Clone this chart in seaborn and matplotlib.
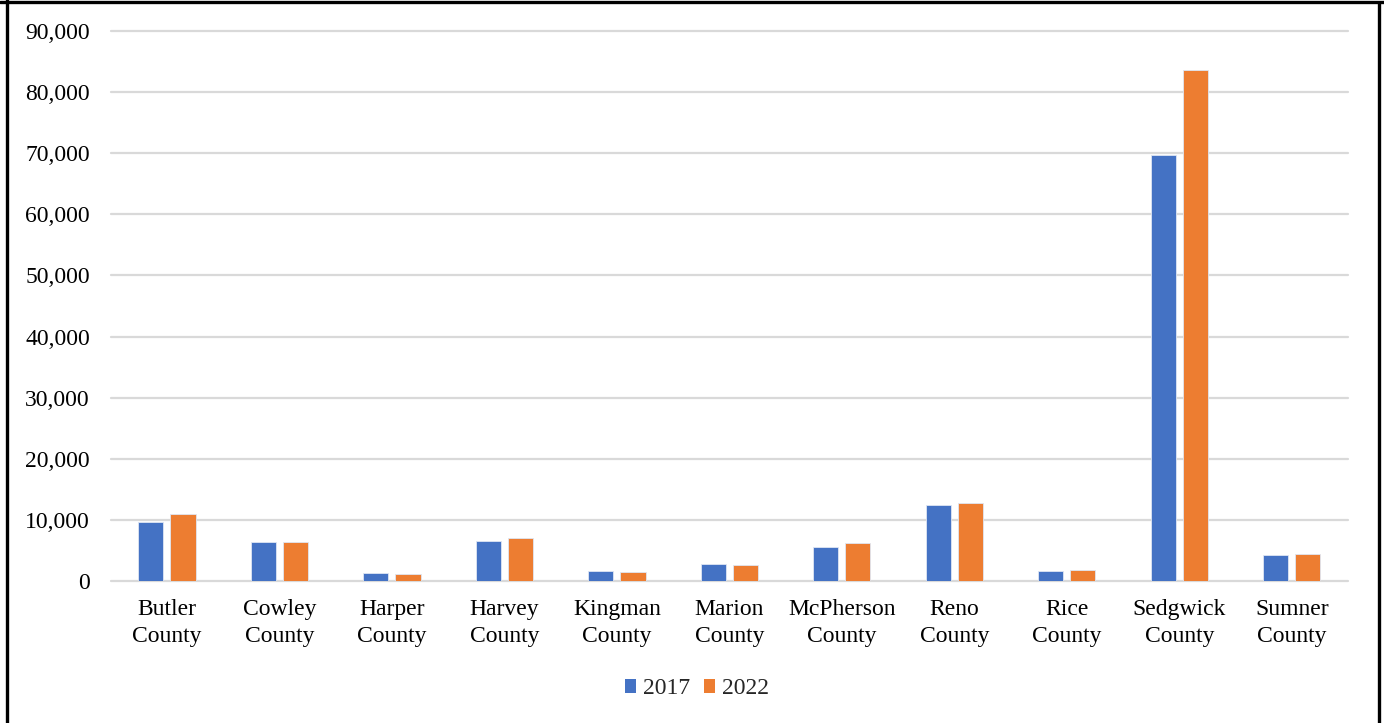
import matplotlib
matplotlib.use("Agg")
import matplotlib.pyplot as plt
from matplotlib.lines import Line2D
from matplotlib.patches import Patch
import seaborn as sns
import pandas as pd

counties = ["Butler\nCounty", "Cowley\nCounty", "Harper\nCounty", "Harvey\nCounty",
            "Kingman\nCounty", "Marion\nCounty", "McPherson\nCounty", "Reno\nCounty",
            "Rice\nCounty", "Sedgwick\nCounty", "Sumner\nCounty"]
years = ["2017", "2022"]
values_2017 = [9700, 6400, 1300, 6500, 1600, 2800, 5500, 12500, 1700, 69700, 4300]
values_2022 = [11000, 6400, 1100, 7000, 1400, 2700, 6200, 12800, 1800, 83700, 4500]
yticks = [0, 10000, 20000, 30000, 40000, 50000, 60000, 70000, 80000, 90000]

colors = {"2017": "#4472C4", "2022": "#ED7D31"}

df = pd.DataFrame({
    "county": counties * 2,
    "year": [years[0]] * len(counties) + [years[1]] * len(counties),
    "value": values_2017 + values_2022,
})

sns.set_theme(style="white")
plt.rcParams["font.family"] = ["Liberation Serif", "DejaVu Serif"]

FS = 17

fig = plt.figure(figsize=(13.84, 7.23), dpi=100)
ax = fig.add_axes([0.080, 0.1964, 0.894, 0.7607])

sns.barplot(data=df, x="county", y="value", hue="year", palette=colors,
            order=counties, hue_order=years, width=0.572, gap=0.22,
            saturation=1, errorbar=None, edgecolor="#dfe6f3", linewidth=0.6,
            legend=False, ax=ax)

ax.set_ylim(0, 90000)
ax.set_xlim(-0.5, len(counties) - 0.5)
ax.set_yticks(yticks)
ax.set_yticklabels([f"{v:,}" for v in yticks], fontsize=FS, color="#000000")
ax.tick_params(axis="x", labelsize=FS, colors="#000000", length=0, pad=13)
ax.tick_params(axis="y", length=0, pad=15)
for lab in ax.get_xticklabels():
    lab.set_linespacing(1.38)
ax.set_xlabel("")
ax.set_ylabel("")
ax.yaxis.grid(True, color="#D9D9D9", linewidth=1.6)
for gl in ax.get_ygridlines():
    gl.set_clip_on(False)
ax.set_axisbelow(True)
for side in ["top", "right", "left", "bottom"]:
    ax.spines[side].set_visible(False)

handles = [Patch(facecolor=colors[y], edgecolor="none") for y in years]
fig.legend(handles, years, loc="center", bbox_to_anchor=(0.5036, 1 - 689 / 723),
           ncol=2, frameon=False, fontsize=FS, handlelength=0.5, handleheight=0.5,
           handletextpad=0.3, columnspacing=0.55)

# outer frame
W, H = 1384, 723
fig.add_artist(Line2D([6.5 / W, 6.5 / W], [0, 1], transform=fig.transFigure, color="black", linewidth=2.4))
fig.add_artist(Line2D([1378.5 / W, 1378.5 / W], [0, 1 - 3 / H], transform=fig.transFigure, color="black", linewidth=2.4))
fig.add_artist(Line2D([0, 1], [1 - 2 / H, 1 - 2 / H], transform=fig.transFigure, color="black", linewidth=2.4))

fig.savefig("out.png", dpi=100)
